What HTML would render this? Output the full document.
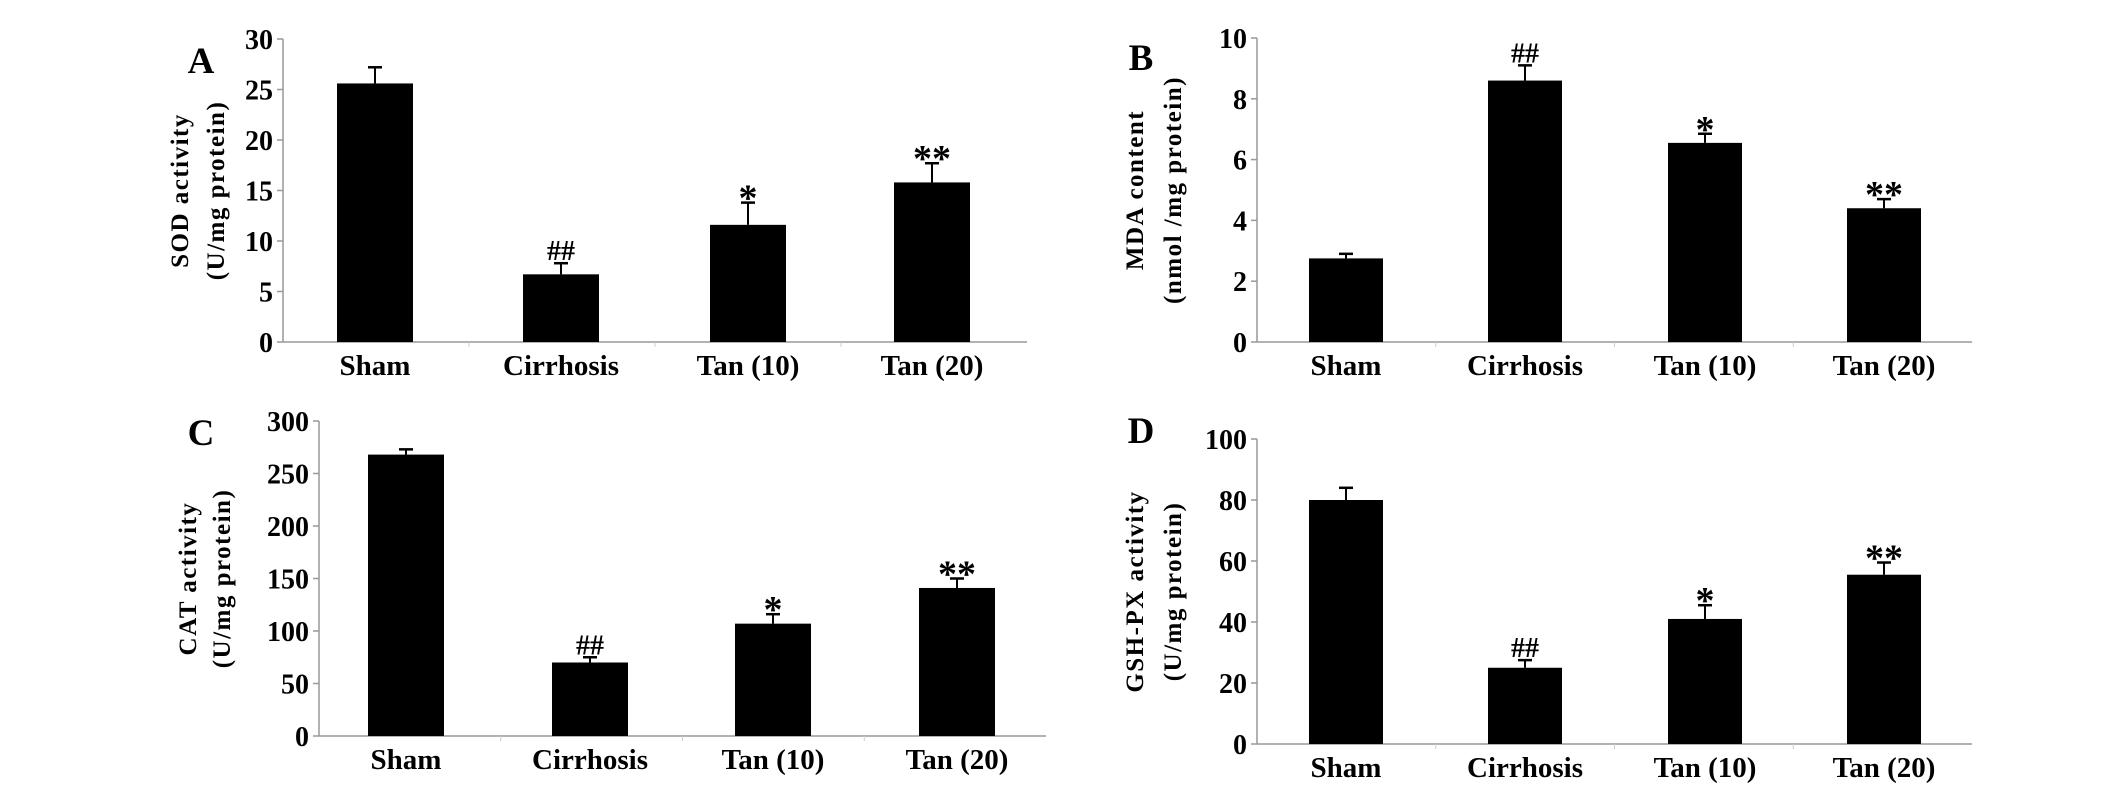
<!DOCTYPE html>
<html><head><meta charset="utf-8">
<style>
html,body{margin:0;padding:0;background:#fff;}
svg{display:block;}
text{font-family:"Liberation Serif",serif;font-weight:bold;fill:#000;}
</style></head>
<body>
<svg id="fig" width="2126" height="793" viewBox="0 0 2126 793" xmlns="http://www.w3.org/2000/svg"></svg>
<script>
const categories = ["Sham","Cirrhosis","Tan (10)","Tan (20)"];
const sodValues = [25.6, 6.7, 11.6, 15.8];
const sodErrors = [1.6, 1.1, 2.2, 1.9];
const mdaValues = [2.75, 8.6, 6.55, 4.4];
const mdaErrors = [0.15, 0.5, 0.3, 0.3];
const catValues = [268, 70, 107, 141];
const catErrors = [5, 5, 9, 9];
const gshValues = [80, 25, 41, 55.5];
const gshErrors = [4, 2.5, 4.5, 4];
const sigMarks = ["", "##", "*", "**"];
const sodTicks = [0,5,10,15,20,25,30];
const mdaTicks = [0,2,4,6,8,10];
const catTicks = [0,50,100,150,200,250,300];
const gshTicks = [0,20,40,60,80,100];

const NS = "http://www.w3.org/2000/svg";
const svg = document.getElementById("fig");
function mk(tag, attrs, parent){
  const e = document.createElementNS(NS, tag);
  for (const k in attrs) e.setAttribute(k, attrs[k]);
  (parent||svg).appendChild(e);
  return e;
}

const panels = [
  {id:"a", letter:"A", lx:201, ly:60, ax:283, ay0:342, ay1:39, axEnd:1027, barL:[337,523,710,894], bw:76,
   ticks:sodTicks, vals:sodValues, errs:sodErrors, t1:"SOD activity", t2:"(U/mg protein)", tx1:188, tx2:224},
  {id:"b", letter:"B", lx:1141, ly:57, ax:1257, ay0:342, ay1:38, axEnd:1972, barL:[1309,1488,1668,1847], bw:74,
   ticks:mdaTicks, vals:mdaValues, errs:mdaErrors, t1:"MDA content", t2:"(nmol /mg protein)", tx1:1143, tx2:1181},
  {id:"c", letter:"C", lx:201, ly:432, ax:319, ay0:736, ay1:421, axEnd:1046, barL:[368,552,735,919], bw:76,
   ticks:catTicks, vals:catValues, errs:catErrors, t1:"CAT activity", t2:"(U/mg protein)", tx1:196, tx2:230},
  {id:"d", letter:"D", lx:1141, ly:430, ax:1257, ay0:744, ay1:439, axEnd:1972, barL:[1309,1488,1668,1847], bw:74,
   ticks:gshTicks, vals:gshValues, errs:gshErrors, t1:"GSH-PX activity", t2:"(U/mg protein)", tx1:1143, tx2:1181}
];

panels.forEach(p => {
  const g = mk("g", {});
  
  
  const tmax = p.ticks[p.ticks.length-1];
  const y = v => p.ay0 - (v / tmax) * (p.ay0 - p.ay1);

  const L = mk("text", {x:p.lx, y:p.ly+13, "font-size":37, "text-anchor":"middle"}, g);
  L.textContent = p.letter;
  
  

  const ya = mk("line", {x1:p.ax, x2:p.ax, y1:p.ay1, y2:p.ay0, stroke:"#999", "stroke-width":1.5}, g);
  
  
  const xa = mk("line", {x1:p.ax, x2:p.axEnd, y1:p.ay0, y2:p.ay0, stroke:"#999", "stroke-width":1.5}, g);
  
  

  p.ticks.forEach(t => {
    const yy = y(t);
    const tk = mk("line", {x1:p.ax-6, x2:p.ax, y1:yy, y2:yy, stroke:"#999", "stroke-width":1.5}, g);
    
    
    const tl = mk("text", {x:p.ax-10, y:yy+10, "font-size":28, "text-anchor":"end"}, g);
    tl.textContent = t;
    
    
  });

  const step = (p.axEnd - p.ax) / categories.length;
  for (let i=1;i<categories.length;i++){
    const xx = p.ax + step*i;
    const st = mk("line", {x1:xx, x2:xx, y1:p.ay0, y2:p.ay0+5, stroke:"#ccc", "stroke-width":1}, g);
    
    
  }

  categories.forEach((c,i) => {
    const x0 = p.barL[i], cx = x0 + p.bw/2;
    const top = y(p.vals[i]), et = y(p.vals[i] + p.errs[i]);
    const eb = mk("line", {x1:cx, x2:cx, y1:top, y2:et, stroke:"#000", "stroke-width":2}, g);
    
    
    const ec = mk("line", {x1:cx-7, x2:cx+7, y1:et, y2:et, stroke:"#000", "stroke-width":2.5}, g);
    
    
    const r = mk("rect", {x:x0, y:top, width:p.bw, height:p.ay0-top, fill:"#000"}, g);
    
    
    if (sigMarks[i]) {
      const isHash = sigMarks[i] === "##";
      const s = mk("text", {x:cx, y:et - (isHash ? 3 : -8), "font-size": isHash ? 28 : 38, "text-anchor":"middle", "font-weight":"normal"}, g);
      s.textContent = sigMarks[i];
      
      
    }
    const cl = mk("text", {x:cx, y:p.ay0+33, "font-size":29, "text-anchor":"middle"}, g);
    cl.textContent = c;
    
    
  });

  const cy = (p.ay0 + p.ay1)/2;
  const a1 = mk("text", {x:p.tx1, y:cy, "font-size":25, "text-anchor":"middle", "letter-spacing":"1.5", transform:`rotate(-90 ${p.tx1} ${cy})`}, g);
  a1.textContent = p.t1;
  
  
  const a2 = mk("text", {x:p.tx2, y:cy, "font-size":25, "text-anchor":"middle", "letter-spacing":"1.5", transform:`rotate(-90 ${p.tx2} ${cy})`}, g);
  a2.textContent = p.t2;
  
  
});
</script>
</body></html>
